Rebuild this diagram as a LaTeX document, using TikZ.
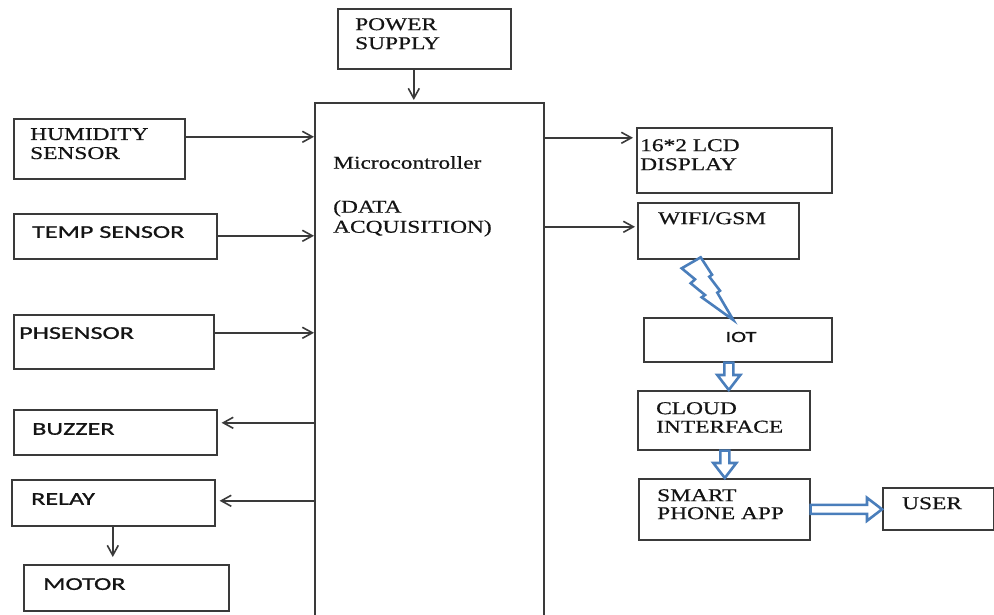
\documentclass[tikz,border=0pt]{standalone}
\usepackage{fontspec}
\setmainfont[FakeStretch=1.3,FakeBold=0.6]{Liberation Serif}
\newfontfamily\calibfont[FakeStretch=1.45,FakeBold=1]{Carlito}
\usetikzlibrary{arrows.meta,calc}
\definecolor{ink}{HTML}{3A3A3A}
\definecolor{lettering}{HTML}{141414}
\definecolor{boltblue}{HTML}{4A7EBB}
\tikzset{
  >={Straight Barb[length=10pt,width=11pt]},
  block/.style={draw=ink,line width=1.6pt,inner sep=0pt,anchor=north west},
  flow/.style={->,line width=1.6pt,color=ink},
  serif/.style={font=\fontsize{18}{19}\selectfont,text=lettering,inner sep=0pt,anchor=north west,align=left},
  sans/.style={serif,font=\calibfont\fontsize{18}{19}\selectfont},
  hollow/.style={draw=boltblue,line width=2.6pt,fill=white,line join=miter,
    to path={(\tikztostart) coordinate (ha-s) (\tikztotarget) coordinate (ha-t)
      ($(ha-t)!15pt!(ha-s)$) coordinate (ha-n)
      ($(ha-s)!4.5pt!90:(ha-t)$) -- ($(ha-n)!4.5pt!90:(ha-t)$) -- ($(ha-n)!11.5pt!90:(ha-t)$) -- (ha-t)
      -- ($(ha-n)!11.5pt!-90:(ha-t)$) -- ($(ha-n)!4.5pt!-90:(ha-t)$) -- ($(ha-s)!4.5pt!-90:(ha-t)$) -- cycle}},
  bolt/.style={draw=boltblue,line width=2.6pt,fill=white,line join=miter},
}

\begin{document}
\begin{tikzpicture}[x=1pt,y=-1pt]
  \useasboundingbox (0,0) rectangle (994,615);
  \clip (0,0) rectangle (994,615);

  % blocks
  \node[block,minimum width=173pt,minimum height=60pt] (power) at (337,8) {};
  \node[block,minimum width=229pt,minimum height=516pt] (mcu) at (314,102) {};
  \node[block,minimum width=171pt,minimum height=60pt] (hum) at (13,118) {};
  \node[block,minimum width=203pt,minimum height=45pt] (temp) at (13,213) {};
  \node[block,minimum width=200pt,minimum height=54pt] (ph) at (13,314) {};
  \node[block,minimum width=203pt,minimum height=45pt] (buzzer) at (13,409) {};
  \node[block,minimum width=203pt,minimum height=46pt] (relay) at (11,479) {};
  \node[block,minimum width=205pt,minimum height=46pt] (motor) at (23,564) {};
  \node[block,minimum width=195pt,minimum height=65pt] (lcd) at (636,127) {};
  \node[block,minimum width=161pt,minimum height=56pt] (wifi) at (637,202) {};
  \node[block,minimum width=188pt,minimum height=44pt] (iot) at (643,317) {};
  \node[block,minimum width=172pt,minimum height=59pt] (cloud) at (637,390) {};
  \node[block,minimum width=171pt,minimum height=61pt] (smart) at (638,478) {};
  \node[block,minimum width=111pt,minimum height=42pt] (user) at (882,487) {};

  % texts
  \node[serif] (power-t) at (355,18) {POWER\\SUPPLY};
  \node[serif,font=\fontsize{18}{20}\selectfont] (mcu-t) at (333,156)
    {Microcontroller\\[24pt](DATA\\ACQUISITION)};
  \node[serif] (hum-t) at (30,128) {HUMIDITY\\SENSOR};
  \node[sans] (temp-t) at (32,226) {TEMP SENSOR};
  \node[sans] (ph-t) at (19,327) {PHSENSOR};
  \node[sans] (buzzer-t) at (32,423) {BUZZER};
  \node[sans] (relay-t) at (31,493) {RELAY};
  \node[sans] (motor-t) at (43,578) {MOTOR};
  \node[serif] (lcd-t) at (640,139) {16*2 LCD\\DISPLAY};
  \node[serif] (wifi-t) at (658,212) {WIFI/GSM};
  \node[sans,anchor=center,font=\calibfont\fontsize{15.5}{16}\selectfont] (iot-t) at (741,337) {IOT};
  \node[serif,font=\fontsize{18}{18.5}\selectfont] (cloud-t) at (656,402) {CLOUD\\INTERFACE};
  \node[serif,font=\fontsize{18}{18}\selectfont] (smart-t) at (657,489) {SMART\\PHONE APP};
  \node[serif] (user-t) at (902,497) {USER};

  % wired links
  \draw[flow,shorten >=2pt] ([xshift=-10.5pt]power.south) -- ([xshift=-10.5pt]power.south |- mcu.north);
  \draw[flow] ([yshift=12pt]hum.east) -- ([yshift=12pt]hum.east -| mcu.west);
  \draw[flow] ([yshift=0.5pt]temp.east) -- ([yshift=0.5pt]temp.east -| mcu.west);
  \draw[flow] ([yshift=9pt]ph.east) -- ([yshift=9pt]ph.east -| mcu.west);
  \draw[flow,shorten >=4pt] ([yshift=9.5pt]buzzer.east -| mcu.west) -- ([yshift=9.5pt]buzzer.east);
  \draw[flow,shorten >=4pt] ([yshift=2pt]relay.east -| mcu.west) -- ([yshift=2pt]relay.east);
  \draw[flow,shorten >=7pt] ([xshift=-0.5pt]relay.south) -- ([xshift=-0.5pt]relay.south |- motor.north);
  \draw[flow,shorten >=3pt] ([yshift=22.5pt]lcd.west -| mcu.east) -- ([yshift=22.5pt]lcd.west);
  \draw[flow,shorten >=2pt] ([yshift=4pt]wifi.west -| mcu.east) -- ([yshift=4pt]wifi.west);

  % wireless link
  \draw[bolt] (681.7,268.3) -- (695,279.3) -- (690.7,283.3) -- (705,295) -- (701.7,297.3)
    -- (733.3,320) -- (717.3,292.7) -- (720,290.7) -- (709.3,276.7) -- (712,274.7)
    -- (700.7,257.3) -- cycle;

  % cloud chain
  \draw[hollow] ([xshift=-9pt]iot.south) to ([xshift=-9pt]iot.south |- cloud.north);
  \draw[hollow] ([xshift=1pt]cloud.south) to ([xshift=1pt]cloud.south |- smart.north);
  \draw[hollow] (smart.east) to (smart.east -| user.west);
\end{tikzpicture}
\end{document}
